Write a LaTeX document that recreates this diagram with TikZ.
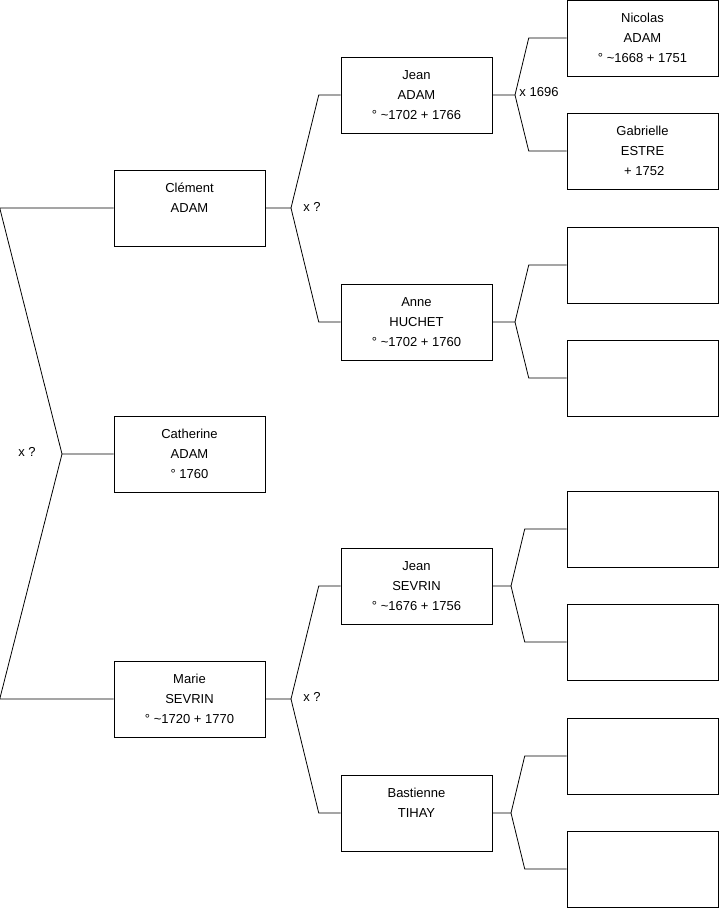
\documentclass[tikz,border=0pt]{standalone}
\usepackage{fontspec}
\setmainfont{Liberation Sans}
\usetikzlibrary{positioning}
\newcommand{\abt}{\textasciitilde}

\begin{document}
\begin{tikzpicture}[
  x=0.75pt, y=-0.75pt,
  person/.style = {draw, minimum width=113.25pt, minimum height=57pt,
                   inner sep=0pt, align=center,
                   font=\fontsize{9.75}{15}\selectfont},
  link/.style   = {draw, line width=0.6pt},
  union/.style  = {font=\fontsize{9.75}{15}\selectfont}
]
\useasboundingbox (0,0) rectangle (719,908);

%% ---- GENERATION 1 ----
\node[person] (clement)   at (189.5,208) {Clément\\ADAM\\\mbox{}};
\node[person] (catherine) at (189.5,454) {Catherine\\ADAM\\° 1760};
\node[person] (marie)     at (189.5,699) {Marie\\SEVRIN\\° \abt1720 + 1770};

%% ---- GENERATION 2 ----
\node[person] (jeanA)     at (416.5,95)  {Jean\\ADAM\\° \abt1702 + 1766};
\node[person] (anne)      at (416.5,322) {Anne\\HUCHET\\° \abt1702 + 1760};
\node[person] (jeanS)     at (416.5,586) {Jean\\SEVRIN\\° \abt1676 + 1756};
\node[person] (bastienne) at (416.5,813) {Bastienne\\TIHAY\\\mbox{}};

%% ---- GENERATION 3 ----
\node[person] (nicolas)   at (642.5,38)  {Nicolas\\ADAM\\° \abt1668 + 1751};
\node[person] (gabrielle) at (642.5,151) {Gabrielle\\ESTRE\\\ + 1752};
\node[person] (emptyA)    at (642.5,265) {};
\node[person] (emptyB)    at (642.5,378) {};
\node[person] (emptyC)    at (642.5,529) {};
\node[person] (emptyD)    at (642.5,642) {};
\node[person] (emptyE)    at (642.5,756) {};
\node[person] (emptyF)    at (642.5,869) {};

% branch points
\coordinate (fork0) at (62,454);
\coordinate (fork1) at (291,208);
\coordinate (fork2) at (291,699);
\coordinate (fork3) at (515,95);
\coordinate (fork4) at (515,322);
\coordinate (fork5) at (511,586);
\coordinate (fork6) at (511,813);

% links
\draw[link] (clement.west) -- ++(-114,0) -- (fork0) -- (catherine.west);
\draw[link] (marie.west)   -- ++(-114,0) -- (fork0);

\draw[link] (jeanA.west) -- ++(-22,0) -- (fork1) -- (clement.east);
\draw[link] (anne.west)  -- ++(-22,0) -- (fork1);
\draw[link] (jeanS.west)     -- ++(-22,0) -- (fork2) -- (marie.east);
\draw[link] (bastienne.west) -- ++(-22,0) -- (fork2);

\draw[link] (nicolas.west)   -- ++(-38,0) -- (fork3) -- (jeanA.east);
\draw[link] (gabrielle.west) -- ++(-38,0) -- (fork3);
\draw[link] (emptyA.west) -- ++(-38,0) -- (fork4) -- (anne.east);
\draw[link] (emptyB.west) -- ++(-38,0) -- (fork4);
\draw[link] (emptyC.west) -- ++(-42,0) -- (fork5) -- (jeanS.east);
\draw[link] (emptyD.west) -- ++(-42,0) -- (fork5);
\draw[link] (emptyE.west) -- ++(-42,0) -- (fork6) -- (bastienne.east);
\draw[link] (emptyF.west) -- ++(-42,0) -- (fork6);

% marriages
\node[union] (union0) at (27,452)  {x ?};
\node[union] (union1) at (312,207) {x ?};
\node[union] (union2) at (312,697) {x ?};
\node[union] (union3) at (539,92)  {x 1696};

\end{tikzpicture}
\end{document}
